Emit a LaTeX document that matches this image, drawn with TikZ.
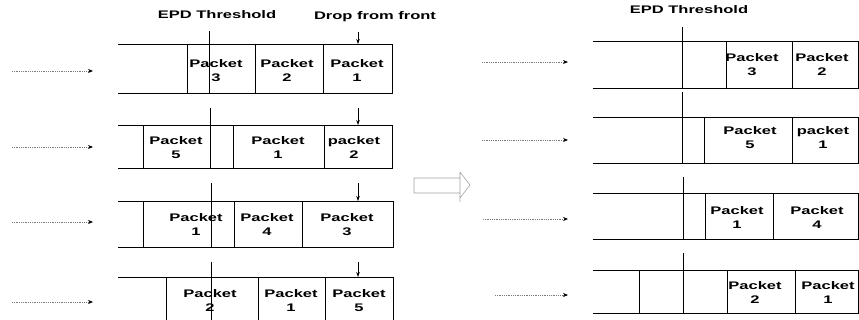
\documentclass[tikz,border=0pt]{standalone}
\usepackage{fontspec}
\usepackage{xcolor}
\usepackage{tikz}
\usetikzlibrary{arrows.meta}
\newfontfamily\pktfont[FakeStretch=1.5]{Liberation Sans}
\definecolor{scangray}{HTML}{7A7A7A}

\begin{document}
\begin{tikzpicture}[x=1pt,y=-1pt,
    lbl/.style={font=\pktfont\bfseries\fontsize{11}{14}\selectfont,align=center,inner sep=0pt},
    cell/.style={line width=0.8pt},
    thresh/.style={line width=0.9pt},
    drop/.style={line width=0.6pt,-{Stealth[length=5pt,width=3.5pt]}},
    flow/.style={densely dotted,scangray,line width=0.8pt,-{Stealth[length=5pt,width=4pt,color=black]}}]
  \useasboundingbox (0,0) rectangle (859,320);

  % titles
  \node[lbl] (epdL) at (217,15) {EPD Threshold};
  \node[lbl] (dropL) at (375,17) {Drop from front};
  \node[lbl] (epdR) at (689,10) {EPD Threshold};

  % left queues, before
  \draw[cell] (118,44) -- (392,44) -- (392,93) -- (118,93);
  \draw[cell] (187,44) -- (187,93) (255,44) -- (255,93) (323,44) -- (323,93);
  \draw[cell] (118,125) -- (392,125) -- (392,168) -- (118,168);
  \draw[cell] (143,125) -- (143,168) (233,125) -- (233,168) (324,125) -- (324,168);
  \draw[cell] (118,201) -- (393,201) -- (393,247) -- (118,247);
  \draw[cell] (143,201) -- (143,247) (234,201) -- (234,247) (302,201) -- (302,247);
  \draw[cell] (118,277) -- (393,277) -- (393,320);
  \draw[cell] (166,277) -- (166,320) (258,277) -- (258,320) (325,277) -- (325,320);

  \draw[thresh] (209,31) -- (209,93);
  \draw[thresh] (210,108) -- (210,168);
  \draw[thresh] (211,183) -- (211,247);
  \draw[thresh] (211,262) -- (211,320);

  \foreach \ya/\yb in {32/44, 108/125, 183/201, 262/277}
    \draw[drop] (358,\ya) -- (358,\yb);

  \node[lbl] (p13) at (216,71) {Packet\\3};
  \node[lbl] (p12) at (287,71) {Packet\\2};
  \node[lbl] (p11) at (357,71) {Packet\\1};
  \node[lbl] (p25) at (176,148) {Packet\\5};
  \node[lbl] (p21) at (278,148) {Packet\\1};
  \node[lbl] (p22) at (354,148) {packet\\2};
  \node[lbl] (p31) at (196,225) {Packet\\1};
  \node[lbl] (p34) at (267,225) {Packet\\4};
  \node[lbl] (p33) at (347,225) {Packet\\3};
  \node[lbl] (p42) at (210,301) {Packet\\2};
  \node[lbl] (p41) at (291,301) {Packet\\1};
  \node[lbl] (p45) at (359,301) {Packet\\5};

  \foreach \y in {71,147,222,302}
    \draw[flow] (12,\y) -- (93,\y);

  % hollow arrow between the two halves
  \draw[scangray!70,line width=0.6pt] (460,178) -- (414,178) -- (414,193) -- (460,193)
    (460,172) -- (460,202) (460,172) -- (470,185) -- (460,198);

  % right queues, after
  \draw[cell] (593,41) -- (859,41) (593,88) -- (859,88) (858.6,41) -- (858.6,88);
  \draw[cell] (726,41) -- (726,88) (792,41) -- (792,88);
  \draw[cell] (593,117) -- (859,117) (593,163) -- (859,163) (858.6,117) -- (858.6,163);
  \draw[cell] (704,117) -- (704,163) (792,117) -- (792,163);
  \draw[cell] (593,193) -- (859,193) (593,239) -- (859,239) (858.6,193) -- (858.6,239);
  \draw[cell] (705,193) -- (705,239) (773,193) -- (773,239);
  \draw[cell] (593,270) -- (859,270) (593,313) -- (859,313) (858.6,270) -- (858.6,313);
  \draw[cell] (639,270) -- (639,313) (727,270) -- (727,313) (795,270) -- (795,313);

  \draw[thresh] (682,27) -- (682,88);
  \draw[thresh] (682,92) -- (682,163);
  \draw[thresh] (683,177) -- (683,239);
  \draw[thresh] (683,253) -- (683,313);

  \node[lbl] (q13) at (752,65) {Packet\\3};
  \node[lbl] (q12) at (822,65) {Packet\\2};
  \node[lbl] (q25) at (750,138) {Packet\\5};
  \node[lbl] (q21) at (823,138) {packet\\1};
  \node[lbl] (q31) at (737,218) {Packet\\1};
  \node[lbl] (q34) at (817,218) {Packet\\4};
  \node[lbl] (q42) at (755,293) {Packet\\2};
  \node[lbl] (q41) at (828,293) {Packet\\1};

  \foreach \y/\xs in {62/482,140/482,219/483,295/495}
    \draw[flow] (\xs,\y) -- (568,\y);
\end{tikzpicture}
\end{document}
